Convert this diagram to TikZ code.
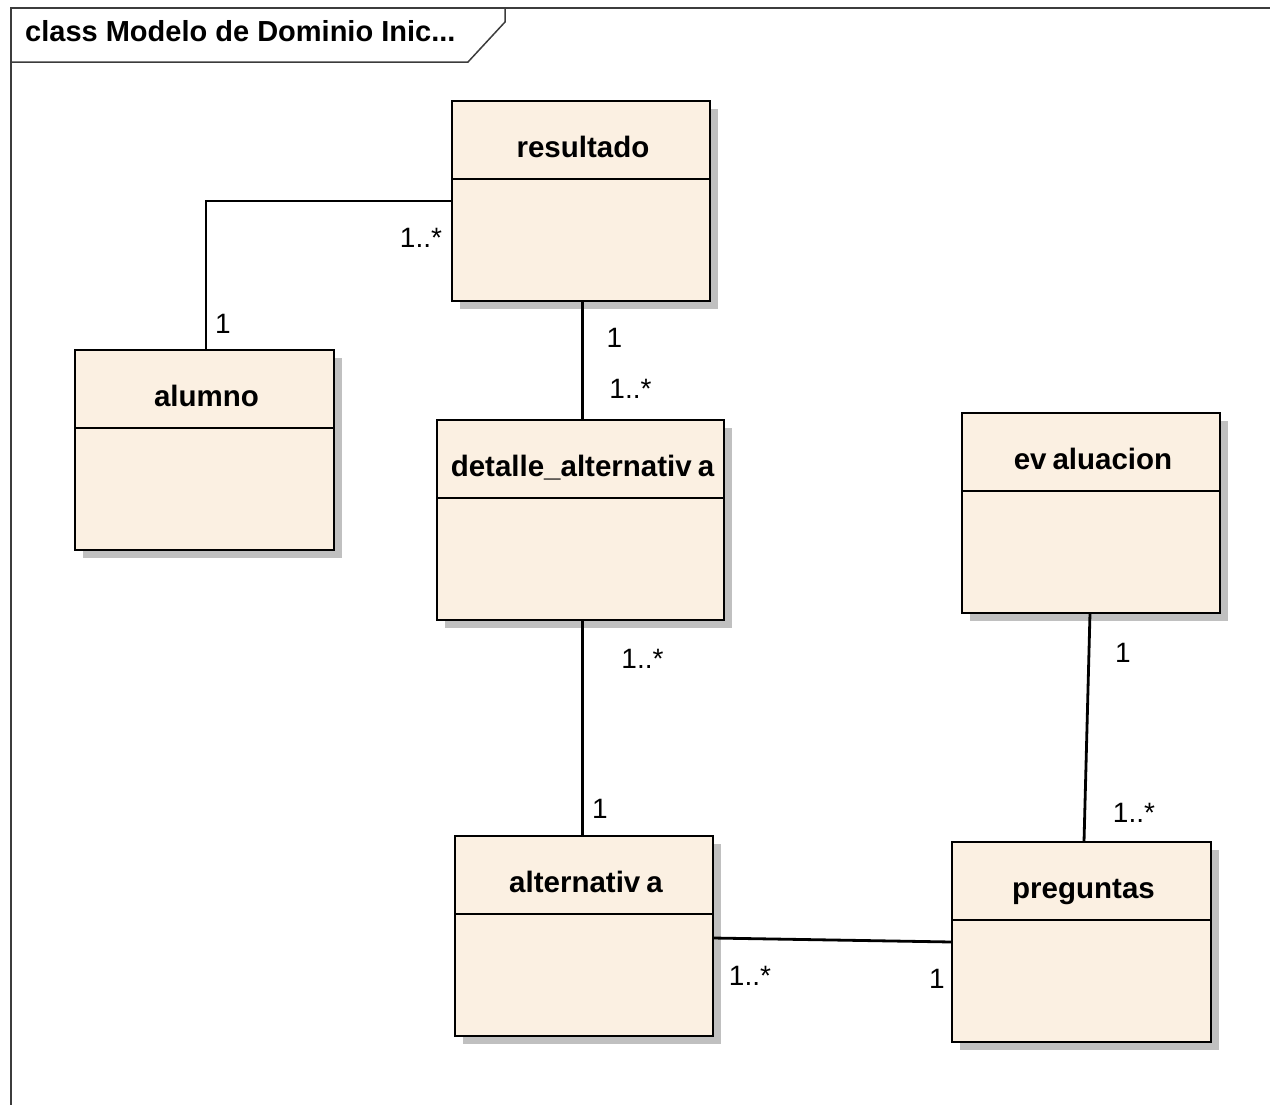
\documentclass[tikz,border=0pt]{standalone}
\usepackage{fontspec}
\setmainfont{Liberation Sans}
\usetikzlibrary{shadows}

\definecolor{classfill}{RGB}{251,240,226}
\definecolor{shadowgray}{RGB}{192,192,192}
\definecolor{framegray}{RGB}{60,60,60}

\tikzset{
  umlbox/.style={draw=black, line width=2.8pt, fill=classfill,
    minimum height=200pt, inner sep=0pt, outer sep=0pt,
    drop shadow={shadow xshift=8pt, shadow yshift=-8pt, fill=shadowgray, opacity=1}},
  divider/.style={draw=black, line width=2.8pt},
  classname/.style={font=\fontsize{29.5}{34}\selectfont\bfseries, inner sep=0pt, anchor=base},
  mult/.style={font=\fontsize{28}{32}\selectfont, inner sep=0pt, anchor=base},
  assoc/.style={draw=black, line width=2.8pt},
  frameline/.style={draw=framegray, line width=1.5pt},
}

% #1 node name, #2 x, #3 y of the top-left corner, #4 width, #5 class name
\newcommand\umlclass[5]{%
  \node[umlbox, minimum width=#4pt, anchor=north west] (#1) at (#2,#3) {};
  \draw[divider] ([yshift=-78pt]#1.north west) -- ([yshift=-78pt]#1.north east);
  \node[classname] (#1-name) at ([xshift=2pt,yshift=-56pt]#1.north) {#5};
}

\begin{document}
\begin{tikzpicture}[x=1pt, y=-1pt]
  \useasboundingbox (0,0) rectangle (1270,1104);

  % diagram frame and its name tab
  \draw[frameline] (1270,8) -- (11,8) -- (11,1110);
  \draw[frameline] (11,62) -- (468,62) -- (505,22) -- (505,8);
  \node[anchor=base west, inner sep=0pt, font=\fontsize{29}{33}\selectfont\bfseries]
    (title) at (25,41) {class Modelo de Dominio Inic...};

  % classes
  \umlclass{res}{452}{101}{258}{resultado}
  \umlclass{alu}{75}{350}{259}{alumno}
  \umlclass{det}{437}{420}{287}{detalle\_alternativ\kern6pt a}
  \umlclass{eva}{962}{413}{258}{ev\kern6pt aluacion}
  \umlclass{alt}{455}{836}{258}{alternativ\kern6pt a}
  \umlclass{pre}{952}{842}{259}{preguntas}

  % associations
  \draw[assoc] (res.west) -| ([xshift=1.5pt]alu.north);
  \draw[assoc] ([xshift=1.5pt]res.south) -- ([xshift=2pt]det.north);
  \draw[assoc] ([xshift=2pt]det.south) -- ([xshift=2pt]det.south |- alt.north);
  \draw[assoc] ([xshift=-1pt]eva.south) -- ([xshift=2.5pt]pre.north);
  \draw[assoc] ([yshift=-2pt]alt.east) -- (pre.west);

  % multiplicities
  \node[mult] (m1) at (421,247) {1..*};
  \node[mult] (m2) at (223,333) {1};
  \node[mult] (m3) at (614.5,347) {1};
  \node[mult] (m4) at (630.5,398) {1..*};
  \node[mult] (m5) at (642.5,668) {1..*};
  \node[mult] (m6) at (600,818) {1};
  \node[mult] (m7) at (1123,662) {1};
  \node[mult] (m8) at (1134,822) {1..*};
  \node[mult] (m9) at (750,985) {1..*};
  \node[mult] (m10) at (937,988) {1};
\end{tikzpicture}
\end{document}
